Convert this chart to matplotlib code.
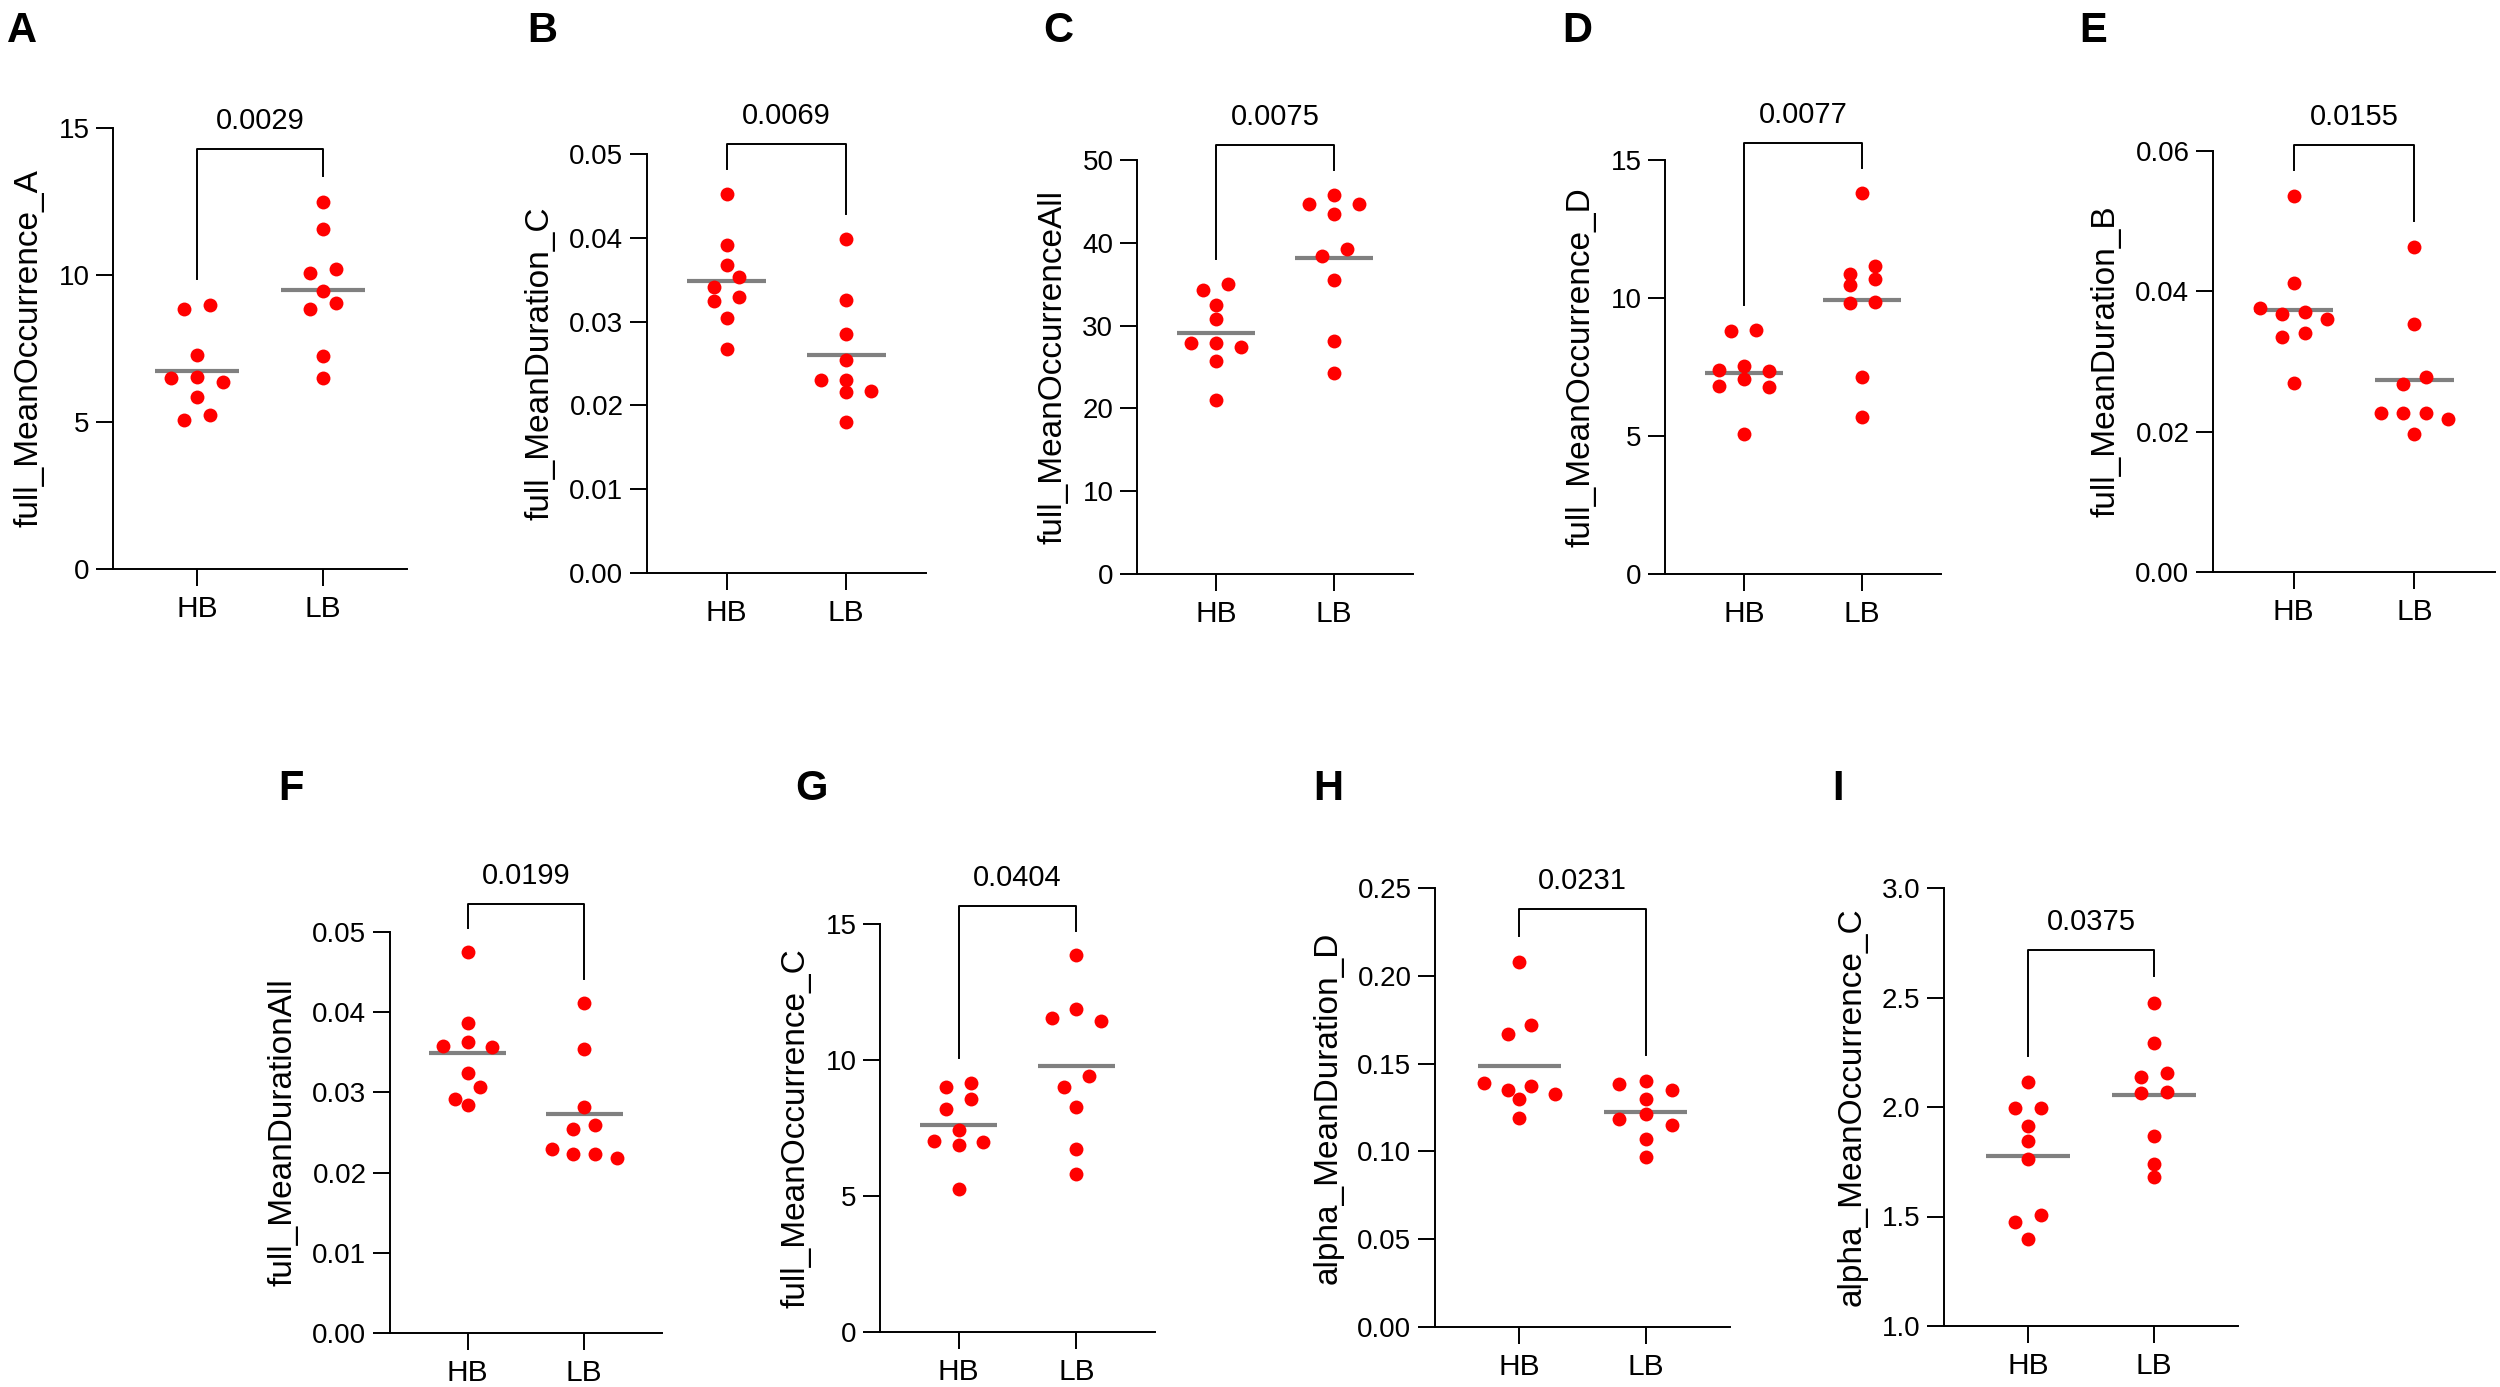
import matplotlib
matplotlib.use("Agg")
import matplotlib.pyplot as plt
import numpy as np
from matplotlib.ticker import FormatStrFormatter, MultipleLocator

plt.rcParams['font.family'] = ['Liberation Sans', 'DejaVu Sans']

groups = ["HB", "LB"]

hb_A = [8.84, 8.98, 7.29, 6.51, 6.37, 6.54, 5.85, 5.06, 5.24]
lb_A = [12.48, 11.55, 10.08, 10.22, 9.47, 9.05, 8.84, 7.26, 6.49]
hb_B = [0.04521, 0.03918, 0.03676, 0.03528, 0.03409, 0.03295, 0.03251, 0.03048, 0.02668]
lb_B = [0.03987, 0.03256, 0.02856, 0.02540, 0.02307, 0.02307, 0.02169, 0.02159, 0.01798]
hb_C = [35.0, 34.25, 32.5, 30.74, 27.88, 27.88, 27.38, 25.78, 21.01]
lb_C = [45.79, 44.63, 44.63, 43.48, 39.22, 38.42, 35.46, 28.13, 24.22]
hb_D = [8.81, 8.84, 7.39, 7.36, 7.52, 7.07, 6.82, 6.79, 5.09]
lb_D = [13.81, 11.17, 10.87, 10.69, 10.48, 9.83, 9.86, 7.12, 5.68]
hb_E = [0.05363, 0.04114, 0.03760, 0.03672, 0.03701, 0.03601, 0.03413, 0.03354, 0.02688]
lb_E = [0.04638, 0.03530, 0.02782, 0.02676, 0.02269, 0.02263, 0.02263, 0.02175, 0.01969]
hb_F = [0.04746, 0.03866, 0.03571, 0.03632, 0.03576, 0.03240, 0.03062, 0.02843, 0.02915]
lb_F = [0.04115, 0.03540, 0.02813, 0.02543, 0.02589, 0.02294, 0.02238, 0.02238, 0.02177]
hb_G = [9.16, 9.01, 8.57, 8.19, 7.42, 7.04, 6.98, 6.87, 5.24]
lb_G = [13.86, 11.86, 11.54, 11.42, 9.43, 9.01, 8.27, 6.72, 5.80]
hb_H = [0.2078, 0.1717, 0.1666, 0.1389, 0.1375, 0.1329, 0.1350, 0.1300, 0.1188]
lb_H = [0.1401, 0.1382, 0.1347, 0.1298, 0.1211, 0.1183, 0.1153, 0.1068, 0.0970]
hb_I = [2.112, 1.995, 1.995, 1.915, 1.847, 1.764, 1.507, 1.475, 1.396]
lb_I = [2.476, 2.292, 2.157, 2.136, 2.070, 2.063, 1.868, 1.742, 1.680]

letters = ["A", "B", "C", "D", "E", "F", "G", "H", "I"]
p_values = ["0.0029", "0.0069", "0.0075", "0.0077", "0.0155",
            "0.0199", "0.0404", "0.0231", "0.0375"]
y_labels = ["full_MeanOccurrence_A", "full_MeanDuration_C", "full_MeanOccurrenceAll",
            "full_MeanOccurrence_D", "full_MeanDuration_B", "full_MeanDurationAll",
            "full_MeanOccurrence_C", "alpha_MeanDuration_D", "alpha_MeanOccurrence_C"]
y_min = [0, 0, 0, 0, 0, 0, 0, 0, 1.0]
y_max = [15, 0.05, 50, 15, 0.06, 0.05, 15, 0.25, 3.0]
y_step = [5, 0.01, 10, 5, 0.02, 0.01, 5, 0.05, 0.5]
y_fmt = ["%d", "%.2f", "%d", "%d", "%.2f", "%.2f", "%d", "%.2f", "%.1f"]

hb_all = [hb_A, hb_B, hb_C, hb_D, hb_E, hb_F, hb_G, hb_H, hb_I]
lb_all = [lb_A, lb_B, lb_C, lb_D, lb_E, lb_F, lb_G, lb_H, lb_I]

# axes boxes in pixels: left, right, top, bottom
W, H = 2500, 1387
boxes = [(113, 407, 128, 569), (647, 926, 154, 573), (1137, 1413, 160, 574),
         (1665, 1941, 160, 574), (2213, 2495, 151, 572),
         (390, 662, 932, 1333), (880, 1155, 924, 1332), (1435, 1730, 888, 1327),
         (1944, 2238, 888, 1326)]
letter_pos = [(7, 42), (527, 42), (1043, 42), (1562, 42), (2079, 42),
              (278, 800), (795, 800), (1313, 800), (1832, 800)]


def swarm(ax, vals, center, thr_px=12.0):
    vals = np.asarray(vals)
    ypx = ax.transData.transform(np.column_stack([np.zeros(len(vals)), vals]))[:, 1]
    rows = []
    for i in np.argsort(-vals, kind="stable"):
        if rows and ypx[rows[-1][0]] - ypx[i] < thr_px:
            rows[-1].append(i)
        else:
            rows.append([i])
    maxn = max(len(r) for r in rows)
    step = 0.21 if maxn <= 3 else 0.56 / (maxn - 1)
    slots = {1: [0], 2: [0.5, -0.5], 3: [0, -1, 1], 4: [-1.5, 0.5, -0.5, 1.5]}
    x = np.zeros(len(vals))
    for r in rows:
        s = slots.get(len(r), list(np.arange(len(r)) - (len(r) - 1) / 2))
        for k, i in enumerate(r):
            x[i] = center + s[k] * step
    return x


fig = plt.figure(figsize=(25, 13.87), dpi=100)

for k in range(9):
    l, r, t, b = boxes[k]
    ax = fig.add_axes([l / W, 1 - b / H, (r - l) / W, (b - t) / H])
    ax.set_xlim(-0.667, 1.667)
    ax.set_ylim(y_min[k], y_max[k])
    rng = y_max[k] - y_min[k]

    for spine in ["top", "right"]:
        ax.spines[spine].set_visible(False)
    for spine in ["left", "bottom"]:
        ax.spines[spine].set_linewidth(1.4)

    ax.yaxis.set_major_locator(MultipleLocator(y_step[k]))
    ax.yaxis.set_major_formatter(FormatStrFormatter(y_fmt[k]))
    ax.set_xticks([0, 1])
    ax.set_xticklabels(groups, fontsize=21.5)
    ax.tick_params(axis="y", length=12.5, width=1.4, pad=4.5, labelsize=20)
    ax.tick_params(axis="x", length=12.5, width=1.4, pad=6)
    ax.set_ylabel(y_labels[k], fontsize=24, labelpad=10)

    for g, vals in enumerate([hb_all[k], lb_all[k]]):
        xs = swarm(ax, vals, g)
        m = np.mean(vals)
        ax.plot([g - 0.33, g + 0.33], [m, m], color="#808080", lw=3,
                solid_capstyle="butt", zorder=2)
        ax.scatter(xs, vals, s=100, color="#ff0000", linewidths=0,
                   zorder=3, clip_on=False)

    top = max(max(hb_all[k]), max(lb_all[k])) + 0.12 * rng
    leg0 = max(hb_all[k]) + 0.06 * rng
    leg1 = max(lb_all[k]) + 0.06 * rng
    ax.plot([0, 0, 1, 1], [leg0, top, top, leg1], color="black", lw=1.4,
            clip_on=False)
    ax.annotate(p_values[k], xy=(0.5, top), xytext=(0, 14.5),
                textcoords="offset points", ha="center", va="baseline",
                fontsize=21, annotation_clip=False)

    lx, ly = letter_pos[k]
    fig.text(lx / W, 1 - ly / H, letters[k], fontsize=30, fontweight="bold",
             ha="left", va="baseline")

fig.savefig("out.png", dpi=100, facecolor="white")
